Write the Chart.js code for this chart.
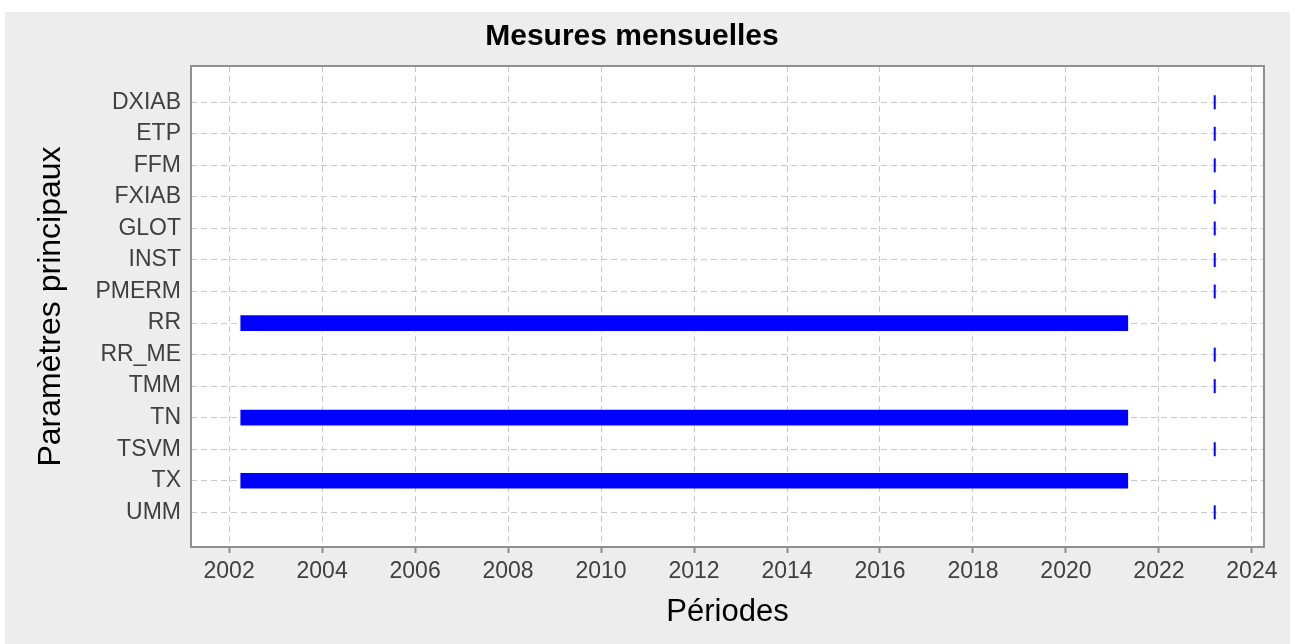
<!DOCTYPE html>
<html>
<head>
<meta charset="utf-8">
<script src="https://cdn.jsdelivr.net/npm/chart.js@4/dist/chart.umd.min.js"></script>
<style>
  html, body { margin: 0; padding: 0; background: #fff; }
  #wrap { width: 1290px; height: 644px; }
</style>
</head>
<body>
<div id="wrap"><canvas id="chart" width="1290" height="644"></canvas></div>
<script>
// Parameters on the y axis, top to bottom
const parameters = ['DXIAB', 'ETP', 'FFM', 'FXIAB', 'GLOT', 'INST', 'PMERM', 'RR', 'RR_ME', 'TMM', 'TN', 'TSVM', 'TX', 'UMM'];

// Long measurement periods (decimal years)
const periodParams = ['RR', 'TN', 'TX'];
const periodStart = [2002.25, 2002.25, 2002.25];
const periodEnd = [2021.33, 2021.33, 2021.33];

// Single-month measurements
const singleParams = ['DXIAB', 'ETP', 'FFM', 'FXIAB', 'GLOT', 'INST', 'PMERM', 'RR_ME', 'TMM', 'TSVM', 'UMM'];
const singleDate = [2023.2, 2023.2, 2023.2, 2023.2, 2023.2, 2023.2, 2023.2, 2023.2, 2023.2, 2023.2, 2023.2];

// x tick labels
const yearTicks = [2002, 2004, 2006, 2008, 2010, 2012, 2014, 2016, 2018, 2020, 2022, 2024];

const FONT = '"Liberation Sans", Arial, Helvetica, sans-serif';
const gridColor = '#c8c8c8';
const gridDash = [6, 4];

// Background: white strip, light gray panel, white plot area, gray frame
const backgroundPlugin = {
    id: 'panelBackground',
    beforeDraw: function(chart) {
        const ctx = chart.ctx;
        const area = chart.chartArea;
        ctx.save();
        ctx.fillStyle = '#ffffff';
        ctx.fillRect(0, 0, chart.width, chart.height);
        ctx.fillStyle = '#ededed';
        ctx.fillRect(5, 12, chart.width - 5, chart.height - 12);
        ctx.fillStyle = '#ffffff';
        ctx.fillRect(area.left, area.top, area.right - area.left, area.bottom - area.top);
        ctx.restore();
    },
    afterDraw: function(chart) {
        const ctx = chart.ctx;
        const area = chart.chartArea;
        ctx.save();
        ctx.strokeStyle = '#909090';
        ctx.lineWidth = 2;
        ctx.setLineDash([]);
        ctx.strokeRect(area.left, area.top, area.right - area.left, area.bottom - area.top);
        ctx.restore();
    }
};

const ctx = document.getElementById('chart');

new Chart(ctx, {
    type: 'bar',
    data: {
        datasets: [
            {
                type: 'bar',
                indexAxis: 'y',
                data: periodParams.map((p, i) => ({ x: [periodStart[i], periodEnd[i]], y: parameters.indexOf(p) })),
                backgroundColor: '#0000ff',
                borderWidth: 0,
                barThickness: 15,
                grouped: false,
                xAxisID: 'x',
                yAxisID: 'y'
            },
            {
                type: 'scatter',
                data: singleParams.map((p, i) => ({ x: singleDate[i], y: parameters.indexOf(p) })),
                pointStyle: 'line',
                rotation: 90,
                radius: 7,
                borderWidth: 2,
                borderColor: '#0000ff',
                backgroundColor: '#0000ff',
                xAxisID: 'x',
                yAxisID: 'y'
            }
        ]
    },
    options: {
        responsive: false,
        animation: false,
        layout: {
            padding: { left: 0, top: 0, right: 26, bottom: 0 }
        },
        plugins: {
            legend: { display: false },
            tooltip: { enabled: false },
            title: {
                display: true,
                text: 'Mesures mensuelles',
                color: '#000000',
                font: { family: FONT, size: 30, weight: 'bold' },
                padding: { top: 19, bottom: 11 }
            }
        },
        scales: {
            x: {
                type: 'linear',
                position: 'bottom',
                offset: false,
                min: 2001.18,
                max: 2024.26,
                afterBuildTicks: function(scale) {
                    scale.ticks = yearTicks.map(v => ({ value: v }));
                },
                afterFit: function(scale) {
                    scale.height = 97;
                },
                ticks: {
                    color: '#404040',
                    font: { family: FONT, size: 23 },
                    padding: 5,
                    maxRotation: 0,
                    callback: function(value) { return String(value); }
                },
                grid: {
                    offset: false,
                    color: gridColor,
                    lineWidth: 1,
                    borderDash: gridDash,
                    drawTicks: true,
                    tickLength: 6,
                    tickColor: '#8c8c8c',
                    tickWidth: 2,
                    tickBorderDash: []
                },
                border: { display: false, dash: gridDash },
                title: {
                    display: true,
                    text: 'Périodes',
                    color: '#000000',
                    font: { family: FONT, size: 31 },
                    padding: { top: 0, bottom: 13 }
                }
            },
            y: {
                type: 'linear',
                position: 'left',
                offset: false,
                reverse: true,
                min: -1.15,
                max: 14.1,
                afterBuildTicks: function(scale) {
                    scale.ticks = parameters.map((_, i) => ({ value: i }));
                },
                afterFit: function(scale) {
                    scale.width = 191;
                },
                ticks: {
                    color: '#404040',
                    font: { family: FONT, size: 23 },
                    padding: 10,
                    callback: function(value) { return parameters[value]; }
                },
                grid: {
                    offset: false,
                    color: gridColor,
                    lineWidth: 1,
                    borderDash: gridDash,
                    drawTicks: false
                },
                border: { display: false, dash: gridDash },
                title: {
                    display: true,
                    text: 'Paramètres principaux',
                    color: '#000000',
                    font: { family: FONT, size: 32 },
                    padding: { top: 32, bottom: 0 }
                }
            }
        }
    },
    plugins: [backgroundPlugin]
});
</script>
</body>
</html>
